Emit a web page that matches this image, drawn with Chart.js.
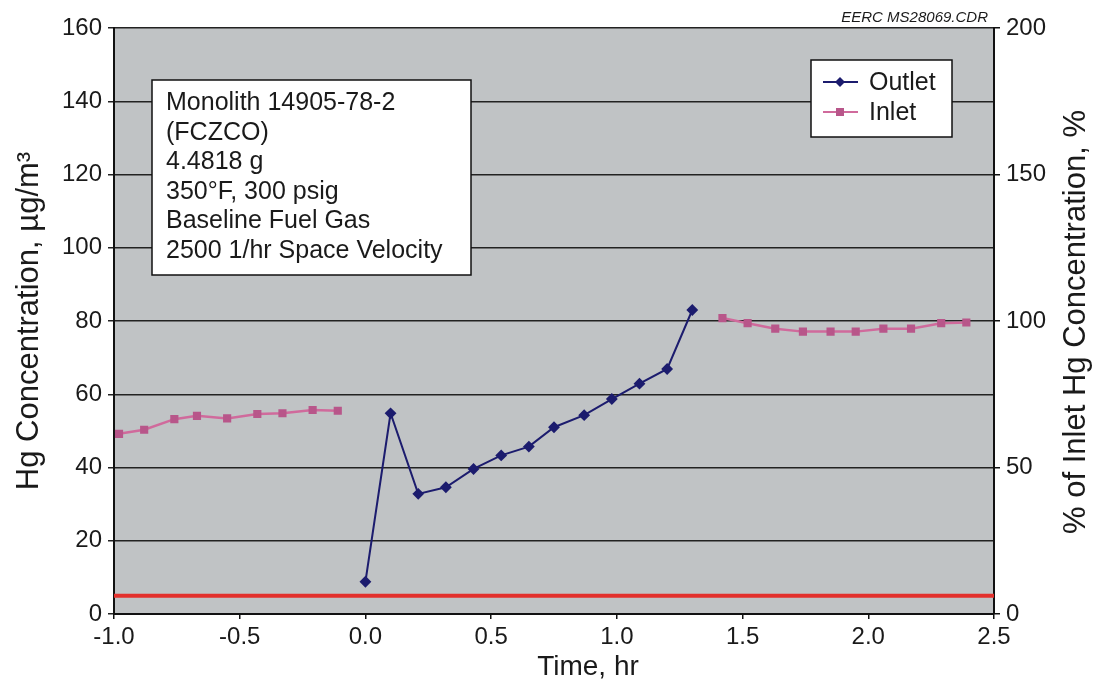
<!DOCTYPE html>
<html>
<head>
<meta charset="utf-8">
<script src="https://cdn.jsdelivr.net/npm/chart.js@4.4.1/dist/chart.umd.min.js"></script>
<style>
  html, body { margin: 0; padding: 0; background: #fff; }
  #wrap { width: 1100px; height: 690px; }
</style>
</head>
<body>
<div id="wrap"><canvas id="chart" width="1100" height="690"></canvas></div>
<script>
// values
const outletTime = [0.0, 0.10, 0.21, 0.32, 0.43, 0.54, 0.65, 0.75, 0.87, 0.98, 1.09, 1.20, 1.30];
const outletHg = [8.8, 54.8, 32.8, 34.6, 39.6, 43.3, 45.7, 51.0, 54.3, 58.7, 62.9, 66.9, 83.0];

const inletTimeBefore = [-0.98, -0.88, -0.76, -0.67, -0.55, -0.43, -0.33, -0.21, -0.11];
const inletHgBefore = [49.2, 50.3, 53.2, 54.1, 53.4, 54.6, 54.8, 55.7, 55.5];
const inletTimeAfter = [1.42, 1.52, 1.63, 1.74, 1.85, 1.95, 2.06, 2.17, 2.29, 2.39];
const inletHgAfter = [80.8, 79.4, 77.9, 77.1, 77.1, 77.1, 77.9, 77.9, 79.4, 79.6];

const baselineTime = [-1.0, 2.5];
const baselineHg = [5, 5];

const noteLines = [
  "Monolith 14905-78-2",
  "(FCZCO)",
  "4.4818 g",
  "350°F, 300 psig",
  "Baseline Fuel Gas",
  "2500 1/hr Space Velocity"
];
const figureId = "EERC MS28069.CDR";

const FONT = "'Liberation Sans', Arial, sans-serif";
const outletColor = "#1c1c6e";
const inletLine = "#d06a9c";
const inletPoint = "#b8568a";

const toPoints = (xs, ys) => xs.map((x, i) => ({ x: x, y: ys[i] }));
// inlet is one series with a gap between the two runs
const inletPoints = toPoints(inletTimeBefore, inletHgBefore)
  .concat([{ x: 0.6, y: null }])
  .concat(toPoints(inletTimeAfter, inletHgAfter));

const plotBg = {
  id: "plotBg",
  beforeDraw(chart) {
    const { ctx, chartArea: a } = chart;
    ctx.save();
    ctx.fillStyle = "#c0c3c5";
    ctx.fillRect(a.left, a.top, a.right - a.left, a.bottom - a.top);
    ctx.restore();
  }
};

const extras = {
  id: "extras",
  afterDraw(chart) {
    const { ctx } = chart;
    ctx.save();

    // text box
    ctx.fillStyle = "#fff";
    ctx.fillRect(152, 80, 319, 195);
    ctx.strokeStyle = "#111";
    ctx.lineWidth = 1.5;
    ctx.strokeRect(152, 80, 319, 195);
    ctx.fillStyle = "#1a1a1a";
    ctx.font = "25px " + FONT;
    ctx.textBaseline = "alphabetic";
    ctx.textAlign = "left";
    noteLines.forEach((t, i) => ctx.fillText(t, 166, 110 + i * 29.6));

    // legend
    ctx.fillStyle = "#fff";
    ctx.fillRect(811, 60, 141, 77);
    ctx.strokeRect(811, 60, 141, 77);
    const items = chart.data.datasets.filter(d => d.label !== "Baseline");
    items.forEach((d, i) => {
      const y = 82 + i * 30;
      ctx.strokeStyle = d.borderColor;
      ctx.lineWidth = 2;
      ctx.beginPath();
      ctx.moveTo(823, y);
      ctx.lineTo(858, y);
      ctx.stroke();
      ctx.fillStyle = d.pointBackgroundColor;
      ctx.beginPath();
      if (d.pointStyle === "rectRot") {
        ctx.moveTo(840, y - 5); ctx.lineTo(845, y); ctx.lineTo(840, y + 5); ctx.lineTo(835, y);
      } else {
        ctx.rect(836, y - 4, 8, 8);
      }
      ctx.fill();
      ctx.fillStyle = "#1a1a1a";
      ctx.font = "25px " + FONT;
      ctx.textBaseline = "middle";
      ctx.fillText(d.label, 869, y + 1);
    });

    // right axis title, reads bottom to top
    ctx.fillStyle = "#1a1a1a";
    ctx.font = "31px " + FONT;
    ctx.textAlign = "center";
    ctx.textBaseline = "middle";
    ctx.save();
    ctx.translate(1076, 322);
    ctx.rotate(-Math.PI / 2);
    ctx.fillText("% of Inlet Hg Concentration, %", 0, 0);
    ctx.restore();

    // x axis title
    ctx.font = "28px " + FONT;
    ctx.fillText("Time, hr", 588, 667);

    // figure id
    ctx.font = "italic 15px " + FONT;
    ctx.textAlign = "right";
    ctx.fillText(figureId, 988, 18);

    ctx.restore();
  }
};

new Chart(document.getElementById("chart"), {
  type: "scatter",
  data: {
    datasets: [
      {
        label: "Outlet",
        data: toPoints(outletTime, outletHg),
        showLine: true,
        borderColor: outletColor,
        borderWidth: 2,
        pointStyle: "rectRot",
        pointRadius: 4.5,
        pointBackgroundColor: outletColor,
        pointBorderColor: outletColor,
        order: 1
      },
      {
        label: "Inlet",
        data: inletPoints,
        showLine: true,
        spanGaps: false,
        borderColor: inletLine,
        borderWidth: 2.5,
        pointStyle: "rect",
        pointRadius: 4,
        pointBackgroundColor: inletPoint,
        pointBorderColor: inletPoint,
        order: 2
      },
      {
        label: "Baseline",
        data: toPoints(baselineTime, baselineHg),
        showLine: true,
        borderColor: "#e3302c",
        borderWidth: 4,
        pointRadius: 0,
        order: 3
      }
    ]
  },
  options: {
    responsive: false,
    devicePixelRatio: 1,
    animation: false,
    layout: { padding: { top: 28, left: 0, right: 0, bottom: 0 } },
    plugins: {
      legend: { display: false },
      tooltip: { enabled: false }
    },
    scales: {
      x: {
        type: "linear",
        min: -1,
        max: 2.5,
        ticks: {
          stepSize: 0.5,
          color: "#1a1a1a",
          font: { family: FONT, size: 24 },
          padding: 4,
          maxRotation: 0,
          callback: v => v.toFixed(1)
        },
        grid: { drawOnChartArea: false, color: "#111", tickLength: 5, lineWidth: 1.5 },
        border: { color: "#111", width: 2 },
        afterFit: s => { s.height = 76; }
      },
      y: {
        position: "left",
        min: 0,
        max: 160,
        ticks: {
          stepSize: 20,
          color: "#1a1a1a",
          font: { family: FONT, size: 24 },
          padding: 6
        },
        grid: { color: "#222", lineWidth: 1.5, tickLength: 6 },
        border: { color: "#111", width: 2 },
        title: {
          display: true,
          text: "Hg Concentration, µg/m³",
          color: "#1a1a1a",
          font: { family: FONT, size: 31 },
          padding: { top: 11, bottom: 0 }
        },
        afterFit: s => { s.width = 114; }
      },
      y2: {
        position: "right",
        min: 0,
        max: 200,
        ticks: {
          stepSize: 50,
          color: "#1a1a1a",
          font: { family: FONT, size: 24 },
          padding: 6
        },
        grid: { drawOnChartArea: false, color: "#111", lineWidth: 1.5, tickLength: 6 },
        border: { color: "#111", width: 2 },
        afterFit: s => { s.width = 106; }
      }
    }
  },
  plugins: [plotBg, extras]
});
</script>
</body>
</html>
